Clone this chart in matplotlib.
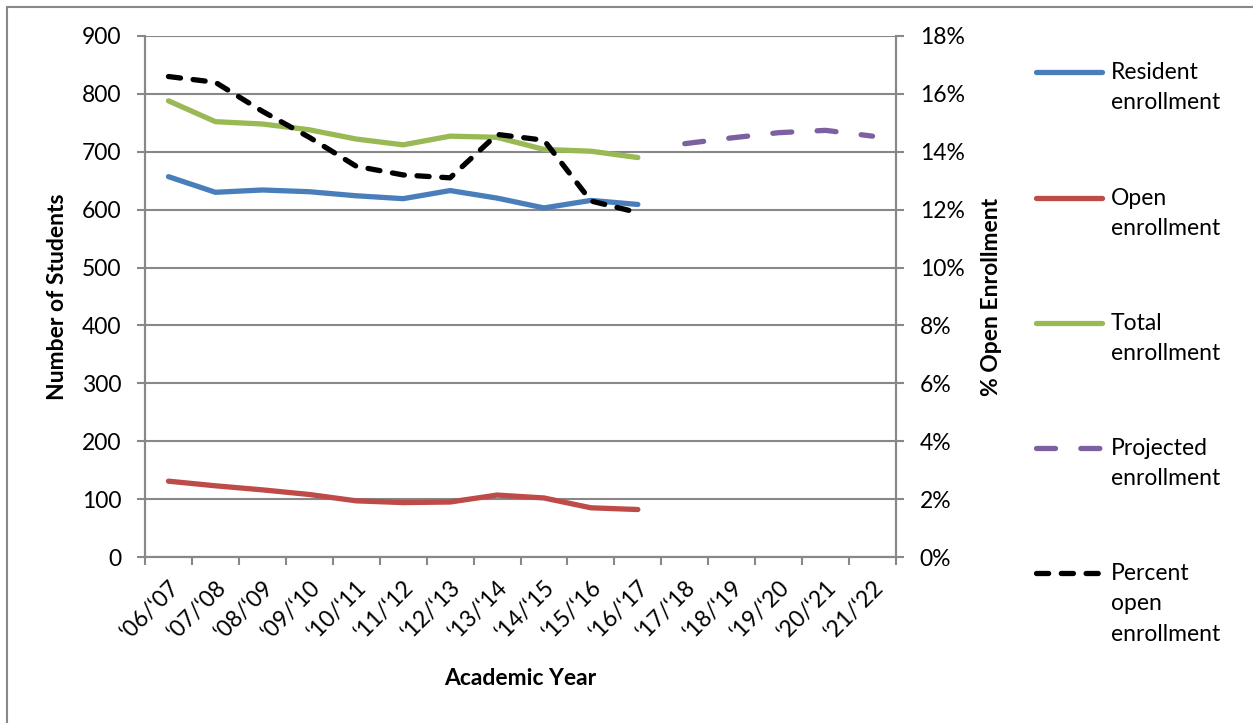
import numpy as np
import matplotlib
matplotlib.use("Agg")
import matplotlib.pyplot as plt
from matplotlib.lines import Line2D
from matplotlib.patches import Rectangle
from matplotlib.ticker import FuncFormatter

plt.rcParams["font.family"] = ["Lato", "DejaVu Sans"]

years = ["\u201806/\u201807", "\u201807/\u201808", "\u201808/\u201809", "\u201809/\u201810",
         "\u201810/\u201811", "\u201811/\u201812", "\u201812/\u201813", "\u201813/\u201814",
         "\u201814/\u201815", "\u201815/\u201816", "\u201816/\u201817", "\u201817/\u201818",
         "\u201818/\u201819", "\u201819/\u201820", "\u201820/\u201821", "\u201821/\u201822"]

resident = [657, 630, 634, 631, 624, 619, 633, 620, 603, 616, 609]
open_enr = [131, 123, 116, 108, 97, 94, 95, 107, 102, 85, 82]
total = [788, 752, 748, 738, 722, 712, 727, 725, 704, 701, 690]
pct_open = [16.6, 16.4, 15.4, 14.5, 13.5, 13.2, 13.1, 14.6, 14.4, 12.3, 11.9]
projected = [714, 724, 733, 737, 727]

BLUE, RED, GREEN, PURPLE = "#4a7ebb", "#be4b48", "#98b954", "#7d60a0"
GRID = "#888888"
LW = 3.8
FS = 16.5
BLACK_DASH = (2.3, 2.4)
PURPLE_DASH = (3.6, 4.8)

fig = plt.figure(figsize=(12.53, 7.23), dpi=100)
ax = fig.add_axes([145/1253, 1-557/723, (896-145)/1253, (557-36)/723])
ax2 = ax.twinx()

x_hist = np.arange(len(resident))
x_proj = np.arange(len(resident), len(years))

ax.plot(x_hist, resident, color=BLUE, lw=LW, solid_capstyle="round", zorder=3)
ax.plot(x_hist, open_enr, color=RED, lw=LW, solid_capstyle="round", zorder=3)
ax.plot(x_hist, total, color=GREEN, lw=LW, solid_capstyle="round", zorder=3)
ax.plot(x_proj, projected, color=PURPLE, lw=LW, dashes=PURPLE_DASH,
        dash_capstyle="round", zorder=3)
ax2.plot(x_hist, pct_open, color="black", lw=LW, dashes=BLACK_DASH,
         dash_capstyle="round", zorder=3)

ax.set_xlim(-0.5, len(years) - 0.5)
ax.set_ylim(0, 900)
ax2.set_ylim(0, 18)
ax.set_yticks(np.arange(0, 901, 100))
ax2.set_yticks(np.arange(0, 19, 2))
ax2.yaxis.set_major_formatter(FuncFormatter(lambda v, p: f"{v:.0f}%"))

ax.yaxis.grid(True, color=GRID, lw=1.5)
ax.set_axisbelow(True)

ax.set_xticks(np.arange(len(years)))
ax.set_xticklabels(years, rotation=45, ha="right", va="top", rotation_mode="anchor")
ax.set_xticks(np.arange(-0.5, len(years)), minor=True)
ax.tick_params(axis="x", which="major", length=0, pad=14, labelsize=FS)
ax.tick_params(axis="x", which="minor", length=6, width=1.5, color=GRID)
ax.tick_params(axis="y", length=6, width=1.5, color=GRID, pad=11, labelsize=FS)
ax2.tick_params(axis="y", length=6, width=1.5, color=GRID, pad=11, labelsize=FS)

for a in (ax, ax2):
    for s in a.spines.values():
        s.set_color(GRID)
        s.set_linewidth(1.5)
    a.spines["top"].set_visible(False)

ax.set_xlabel("Academic Year", fontsize=FS, fontweight="bold", labelpad=18)
ax.set_ylabel("Number of Students", fontsize=FS, fontweight="bold", labelpad=10)
ax2.set_ylabel("% Open Enrollment", fontsize=FS, fontweight="bold", labelpad=12)

# legend drawn by hand so the sample sits on the first text line
entries = [
    ("Resident\nenrollment", dict(color=BLUE), 72),
    ("Open\nenrollment", dict(color=RED), 198),
    ("Total\nenrollment", dict(color=GREEN), 323),
    ("Projected\nenrollment", dict(color=PURPLE, dashes=PURPLE_DASH, dash_capstyle="round"), 448),
    ("Percent\nopen\nenrollment", dict(color="black", dashes=BLACK_DASH, dash_capstyle="round"), 573),
]
for label, style, ypix in entries:
    yf = 1 - ypix / 723
    fig.add_artist(Line2D([1036/1253, 1102/1253], [yf, yf], lw=LW,
                          solid_capstyle="round", transform=fig.transFigure, **style))
    fig.text(1111/1253, yf + 10/723, label, fontsize=FS, va="top", ha="left",
             linespacing=1.55)

fig.add_artist(Rectangle((7/1253, -0.1), 1.2, 1.1 - 7/723, fill=False,
                         edgecolor=GRID, lw=1.5, transform=fig.transFigure))

fig.savefig("out.png", dpi=100)
